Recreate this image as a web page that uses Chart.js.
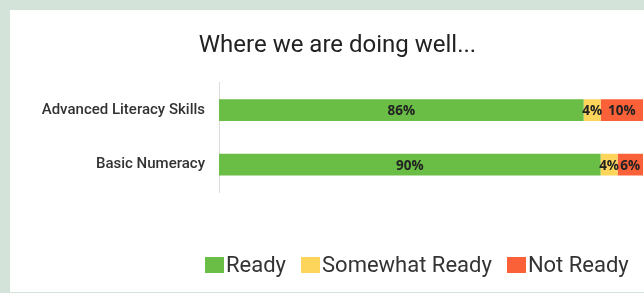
<!DOCTYPE html>
<html>
<head>
<meta charset="utf-8">
<script src="https://cdn.jsdelivr.net/npm/chart.js@4"></script>
<style>
  html, body { margin: 0; padding: 0; }
  body { width: 644px; height: 293px; background: #d4e3d9; overflow: hidden; position: relative; }
  .panel { position: absolute; left: 10px; top: 10px; width: 634px; height: 282px; background: #fff; }
  .panel canvas { position: absolute; left: 0; top: 0; }
  .legend { position: absolute; left: 195px; top: 242px; display: flex; white-space: nowrap; font-family: Roboto, sans-serif; font-size: 22px; color: #333; }
  .legend__item { display: flex; align-items: center; margin-right: 15px; }
  .legend__box { width: 19px; height: 16px; margin-right: 2px; }
</style>
</head>
<body>
<div class="panel">
  <canvas id="chart" width="634" height="282"></canvas>
  <div class="legend" id="legend"></div>
</div>
<script>
const categories = ['Advanced Literacy Skills', 'Basic Numeracy'];
const seriesNames = ['Ready', 'Somewhat Ready', 'Not Ready'];
const ready = [86, 90];
const somewhatReady = [4, 4];
const notReady = [10, 6];
const colors = ['#6abd45', '#fdd55a', '#fb6139'];

// labels in the middle of each segment
const segmentLabels = {
  id: 'segmentLabels',
  afterDatasetsDraw(chart) {
    const ctx = chart.ctx;
    ctx.save();
    ctx.font = 'bold 13.5px "Open Sans", sans-serif';
    ctx.fillStyle = '#222';
    ctx.textAlign = 'center';
    ctx.textBaseline = 'middle';
    chart.data.datasets.forEach((ds, i) => {
      chart.getDatasetMeta(i).data.forEach((bar, j) => {
        const x = (bar.x + bar.base) / 2;
        ctx.fillText(ds.data[j] + '%', x, bar.y + 1);
      });
    });
    ctx.restore();
  },
};

const values = [ready, somewhatReady, notReady];

new Chart(document.getElementById('chart'), {
  type: 'bar',
  data: {
    labels: categories,
    datasets: seriesNames.map((name, i) => ({
      label: name,
      data: values[i],
      backgroundColor: colors[i],
      borderWidth: 0,
      barPercentage: 0.4,
      categoryPercentage: 1,
    })),
  },
  options: {
    indexAxis: 'y',
    responsive: false,
    animation: false,
    layout: { padding: { top: 0, right: 1, bottom: 100, left: 22 } },
    plugins: {
      legend: { display: false },
      tooltip: { enabled: false },
      title: {
        display: true,
        text: 'Where we are doing well...',
        color: '#222',
        font: { family: 'Roboto', size: 24, weight: 'normal' },
        padding: { top: 22, bottom: 22 },
      },
    },
    scales: {
      x: { stacked: true, min: 0, max: 100, display: false },
      y: {
        stacked: true,
        afterFit(scale) { scale.width = 187; },
        grid: { display: false, drawTicks: false },
        border: { display: true, color: '#dcdcdc' },
        ticks: {
          padding: 14,
          color: '#333',
          font: { family: 'Roboto', size: 15, weight: '500' },
        },
      },
    },
  },
  plugins: [segmentLabels],
});

const legend = document.getElementById('legend');
seriesNames.forEach((name, i) => {
  const item = document.createElement('div');
  item.className = 'legend__item';
  const box = document.createElement('span');
  box.className = 'legend__box';
  box.style.background = colors[i];
  const text = document.createElement('span');
  text.textContent = name;
  item.append(box, text);
  legend.append(item);
});
</script>
</body>
</html>
